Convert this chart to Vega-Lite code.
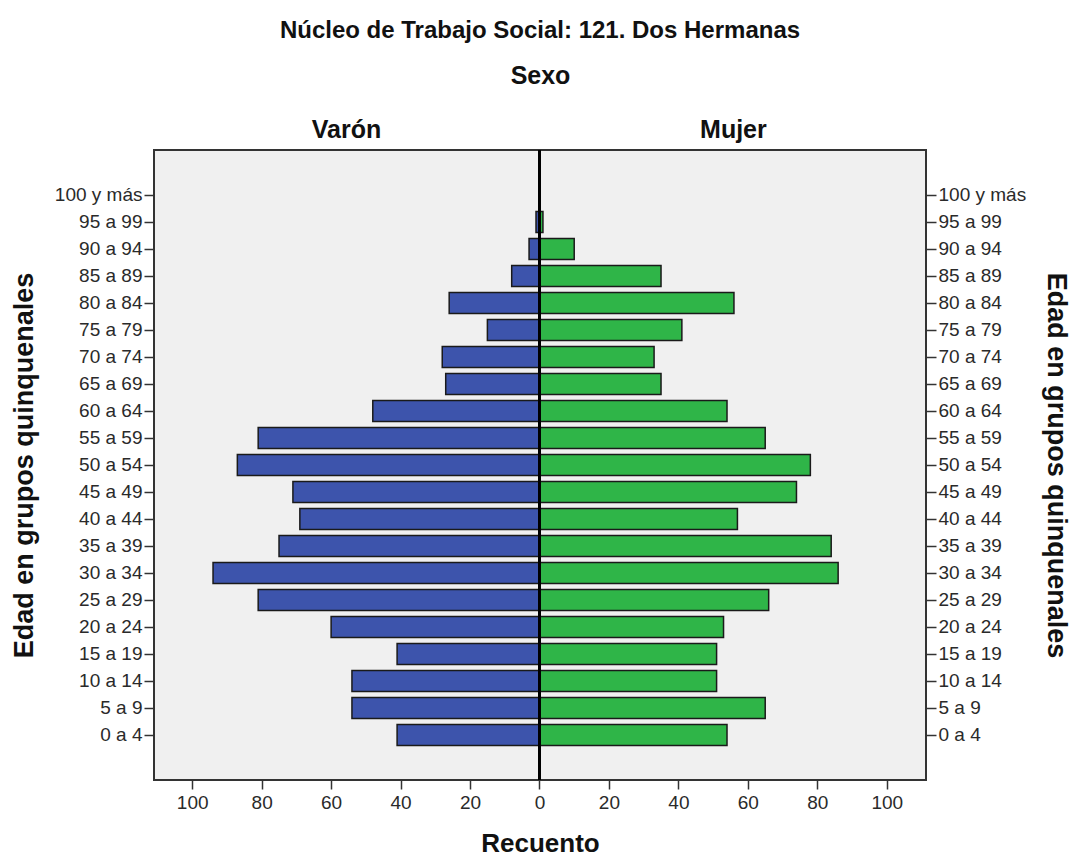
{
  "$schema": "https://vega.github.io/schema/vega-lite/v6.json",
  "width": 772,
  "height": 630,
  "autosize": {"type": "none"},
  "padding": {"left": 154, "top": 150, "right": 145, "bottom": 76},
  "background": "white",
  "title": {
    "text": "Núcleo de Trabajo Social: 121. Dos Hermanas",
    "font": "Liberation Sans",
    "fontSize": 24,
    "fontWeight": "bold",
    "color": "#111111",
    "anchor": "middle",
    "frame": "group",
    "offset": 20
  },
  "config": {
    "view": {"fill": "#F0F0F0", "stroke": "#333333", "strokeWidth": 2},
    "axis": {
      "labelFont": "Liberation Sans",
      "labelFontSize": 19,
      "labelColor": "#2a2a2a",
      "titleFont": "Liberation Sans",
      "titleFontSize": 26,
      "titleFontWeight": "bold",
      "titleColor": "#111111",
      "tickColor": "#333333",
      "tickWidth": 1.5,
      "domain": false,
      "grid": false
    }
  },
  "data": {
    "values": [
      {"edad": "95 a 99", "sexo": "Varón", "recuento": 1},
      {"edad": "90 a 94", "sexo": "Varón", "recuento": 3},
      {"edad": "85 a 89", "sexo": "Varón", "recuento": 8},
      {"edad": "80 a 84", "sexo": "Varón", "recuento": 26},
      {"edad": "75 a 79", "sexo": "Varón", "recuento": 15},
      {"edad": "70 a 74", "sexo": "Varón", "recuento": 28},
      {"edad": "65 a 69", "sexo": "Varón", "recuento": 27},
      {"edad": "60 a 64", "sexo": "Varón", "recuento": 48},
      {"edad": "55 a 59", "sexo": "Varón", "recuento": 81},
      {"edad": "50 a 54", "sexo": "Varón", "recuento": 87},
      {"edad": "45 a 49", "sexo": "Varón", "recuento": 71},
      {"edad": "40 a 44", "sexo": "Varón", "recuento": 69},
      {"edad": "35 a 39", "sexo": "Varón", "recuento": 75},
      {"edad": "30 a 34", "sexo": "Varón", "recuento": 94},
      {"edad": "25 a 29", "sexo": "Varón", "recuento": 81},
      {"edad": "20 a 24", "sexo": "Varón", "recuento": 60},
      {"edad": "15 a 19", "sexo": "Varón", "recuento": 41},
      {"edad": "10 a 14", "sexo": "Varón", "recuento": 54},
      {"edad": "5 a 9", "sexo": "Varón", "recuento": 54},
      {"edad": "0 a 4", "sexo": "Varón", "recuento": 41},
      {"edad": "95 a 99", "sexo": "Mujer", "recuento": 1},
      {"edad": "90 a 94", "sexo": "Mujer", "recuento": 10},
      {"edad": "85 a 89", "sexo": "Mujer", "recuento": 35},
      {"edad": "80 a 84", "sexo": "Mujer", "recuento": 56},
      {"edad": "75 a 79", "sexo": "Mujer", "recuento": 41},
      {"edad": "70 a 74", "sexo": "Mujer", "recuento": 33},
      {"edad": "65 a 69", "sexo": "Mujer", "recuento": 35},
      {"edad": "60 a 64", "sexo": "Mujer", "recuento": 54},
      {"edad": "55 a 59", "sexo": "Mujer", "recuento": 65},
      {"edad": "50 a 54", "sexo": "Mujer", "recuento": 78},
      {"edad": "45 a 49", "sexo": "Mujer", "recuento": 74},
      {"edad": "40 a 44", "sexo": "Mujer", "recuento": 57},
      {"edad": "35 a 39", "sexo": "Mujer", "recuento": 84},
      {"edad": "30 a 34", "sexo": "Mujer", "recuento": 86},
      {"edad": "25 a 29", "sexo": "Mujer", "recuento": 66},
      {"edad": "20 a 24", "sexo": "Mujer", "recuento": 53},
      {"edad": "15 a 19", "sexo": "Mujer", "recuento": 51},
      {"edad": "10 a 14", "sexo": "Mujer", "recuento": 51},
      {"edad": "5 a 9", "sexo": "Mujer", "recuento": 65},
      {"edad": "0 a 4", "sexo": "Mujer", "recuento": 54}
    ]
  },
  "transform": [
    {"calculate": "datum.sexo === 'Varón' ? -datum.recuento : datum.recuento", "as": "valor"}
  ],
  "layer": [
    {
      "mark": {"type": "bar", "stroke": "#1a1a1a", "strokeWidth": 1.5},
      "encoding": {
        "y": {
          "field": "edad",
          "type": "nominal",
          "scale": {
            "domain": ["100 y más", "95 a 99", "90 a 94", "85 a 89", "80 a 84", "75 a 79", "70 a 74", "65 a 69", "60 a 64", "55 a 59", "50 a 54", "45 a 49", "40 a 44", "35 a 39", "30 a 34", "25 a 29", "20 a 24", "15 a 19", "10 a 14", "5 a 9", "0 a 4"],
            "paddingInner": 0.22,
            "paddingOuter": 0,
            "range": [34.5, 595.6]
          },
          "axis": {
            "orient": "left",
            "title": "Edad en grupos quinquenales",
            "titleFontSize": 27,
            "tickSize": 10,
            "labelPadding": 2,
            "titlePadding": 16
          }
        },
        "x": {
          "field": "valor",
          "type": "quantitative",
          "scale": {"domain": [-111, 111.3], "nice": false, "zero": false},
          "axis": {
            "orient": "bottom",
            "title": "Recuento",
            "values": [-100, -80, -60, -40, -20, 0, 20, 40, 60, 80, 100],
            "labelExpr": "abs(datum.value)",
            "tickSize": 9,
            "labelPadding": 4,
            "titlePadding": 18
          }
        },
        "color": {
          "field": "sexo",
          "type": "nominal",
          "scale": {"domain": ["Varón", "Mujer"], "range": ["#3D54AC", "#2FB548"]},
          "legend": null
        }
      }
    },
    {
      "mark": {"type": "rule", "color": "#000000", "strokeWidth": 1.5},
      "encoding": {
        "x": {
          "datum": 0,
          "type": "quantitative",
          "axis": {
            "orient": "top",
            "title": "Sexo",
            "titleFontSize": 25,
            "values": [-55.7, 55.7],
            "labelExpr": "datum.value < 0 ? 'Varón' : 'Mujer'",
            "labelFontSize": 25,
            "labelFontWeight": "bold",
            "labelColor": "#111111",
            "ticks": false,
            "labelPadding": 8,
            "titlePadding": 29
          }
        }
      }
    },
    {
      "mark": {"type": "bar", "opacity": 0},
      "encoding": {
        "y": {
          "field": "edad",
          "type": "nominal",
          "axis": {
            "orient": "right",
            "title": "Edad en grupos quinquenales",
            "titleFontSize": 27,
            "tickSize": 10,
            "labelPadding": 2,
            "titlePadding": 16
          }
        },
        "x": {"field": "valor", "type": "quantitative", "axis": null}
      }
    }
  ],
  "resolve": {"axis": {"x": "independent", "y": "independent"}}
}
